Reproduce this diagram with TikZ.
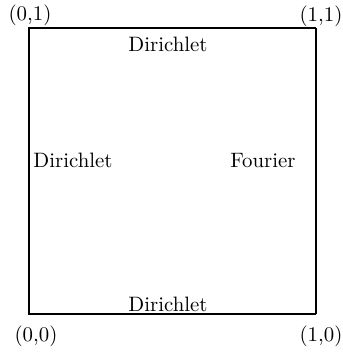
\documentclass[tikz,border=0pt]{standalone}
\begin{document}
\begin{tikzpicture}[x=0.48pt,y=-0.48pt,
  lbl/.style={inner sep=0pt,font=\normalsize},
  edge/.style={line width=0.5pt},
  thickedge/.style={line width=1.1pt}]
\useasboundingbox (0,0) rectangle (342,352);
\coordinate (A) at (29,314);
\coordinate (B) at (316,314);
\coordinate (C) at (316,28);
\coordinate (D) at (29,28);
\draw[edge] (B) -- (A) -- (D) -- (C);
\draw[thickedge] (C) -- (B);
\node[lbl] (p01) at (30,15) {(0,1)};
\node[lbl] (p11) at (321,16) {(1,1)};
\node[lbl] (p00) at (36,336) {(0,0)};
\node[lbl] (p10) at (321,336) {(1,0)};
\node[lbl] (top) at (168,44) {Dirichlet};
\node[lbl] (left) at (73,160) {Dirichlet};
\node[lbl] (right) at (263,161) {Fourier};
\node[lbl] (bottom) at (168,304) {Dirichlet};
\end{tikzpicture}
\end{document}
